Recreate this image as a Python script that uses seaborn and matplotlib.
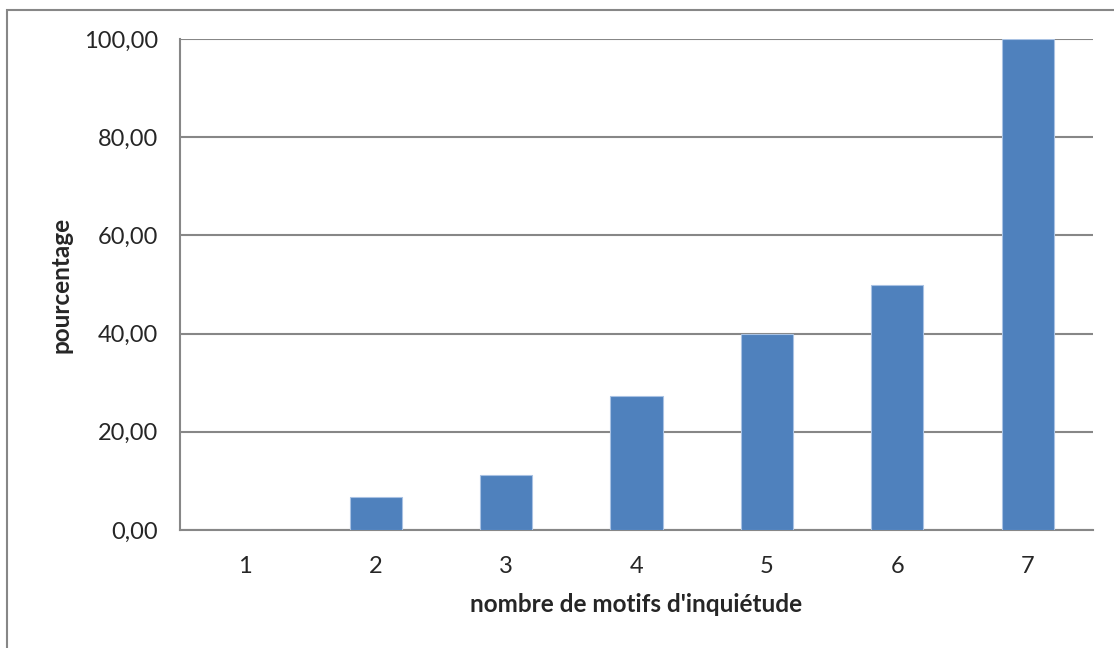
import numpy as np
import pandas as pd
import matplotlib
matplotlib.use('Agg')
import matplotlib.pyplot as plt
import seaborn as sns
from matplotlib.patches import Rectangle
from matplotlib.ticker import FuncFormatter

motifs = ['1', '2', '3', '4', '5', '6', '7']
pourcentage = [0.0, 6.67, 11.11, 27.27, 40.0, 50.0, 100.0]
y_ticks = [0, 20, 40, 60, 80, 100]

df = pd.DataFrame({'motifs': motifs, 'pourcentage': pourcentage})

sns.set_style('white')
plt.rcParams['font.family'] = ['Lato', 'DejaVu Sans']

grey = '#878787'
fig = plt.figure(figsize=(11.14, 6.48), dpi=100)
ax = fig.add_axes([180/1114, 118/648, 913/1114, 491/648])

# cadre autour du graphique
fig.patches.append(Rectangle((7/1114, -0.1), 1.2, 1 - 10/648 + 0.1,
                             transform=fig.transFigure, fill=False,
                             edgecolor=grey, linewidth=1.5, zorder=0))

sns.barplot(data=df, x='motifs', y='pourcentage', color='#4F81BD',
            saturation=1, width=0.4, edgecolor='#A9C2E3', linewidth=0.8,
            ax=ax, zorder=3)

ax.set_xlim(-0.5, 6.5)
ax.set_ylim(0, 100)
ax.set_yticks(y_ticks)
ax.yaxis.set_major_formatter(FuncFormatter(lambda v, p: f'{v:.2f}'.replace('.', ',')))
ax.grid(axis='y', color=grey, linewidth=1.5, zorder=0)
ax.set_axisbelow(True)

# graduations entre les catégories, étiquettes au centre
ax.set_xticks(np.arange(-0.5, 7, 1))
ax.set_xticklabels([])
ax.set_xticks(range(len(motifs)), minor=True)
ax.set_xticklabels(motifs, minor=True)
ax.tick_params(axis='x', which='major', length=8, width=1.5, color=grey, direction='out')
ax.tick_params(axis='x', which='minor', length=0, pad=19, labelsize=17)
ax.tick_params(axis='y', length=8, width=1.5, color=grey, direction='out', pad=8, labelsize=17)

for s in ['top', 'right']:
    ax.spines[s].set_visible(False)
for s in ['left', 'bottom']:
    ax.spines[s].set_color(grey)
    ax.spines[s].set_linewidth(1.5)

ax.set_xlabel("nombre de motifs d'inquiétude", fontsize=17.5, fontweight='bold', labelpad=11)
ax.set_ylabel('pourcentage', fontsize=17.5, fontweight='bold', labelpad=8)

plt.savefig('out.png', dpi=100)
